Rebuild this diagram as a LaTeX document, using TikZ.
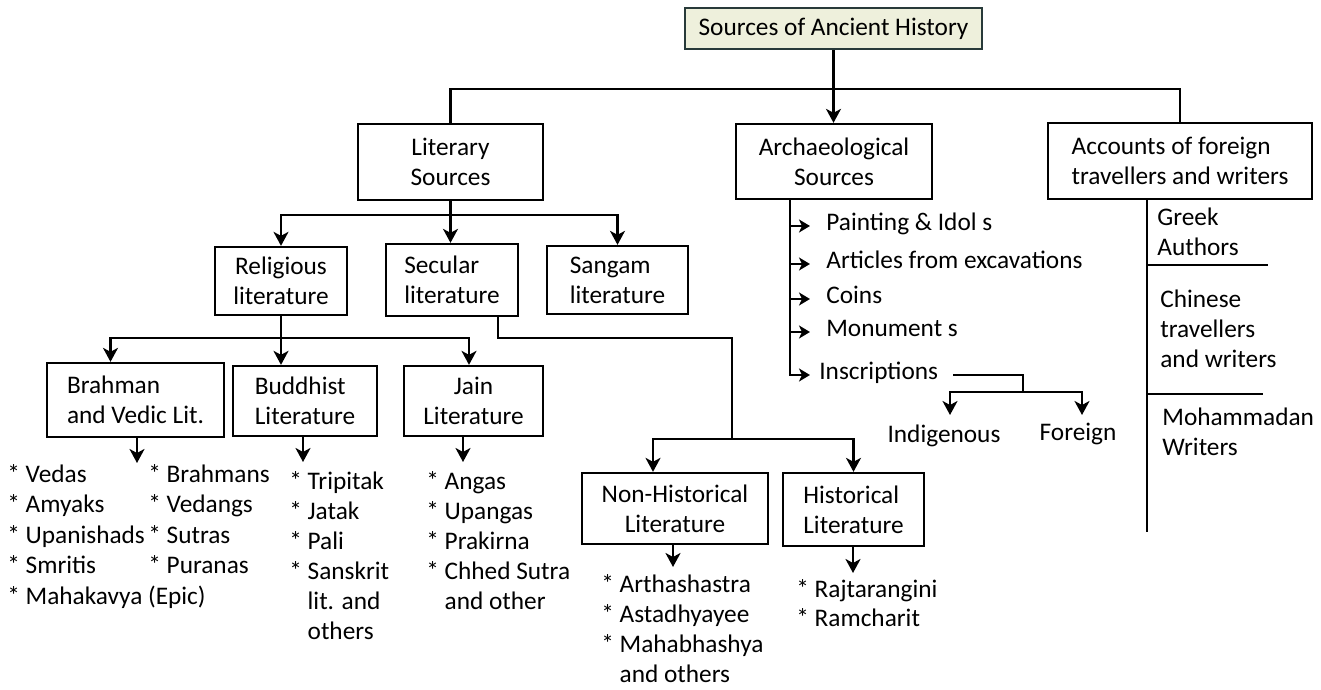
\documentclass[tikz,border=0pt]{standalone}
\usepackage{fontspec}
\setmainfont{Carlito}
\usetikzlibrary{arrows.meta}

\definecolor{titlefill}{RGB}{238,240,220}
\definecolor{titledraw}{RGB}{40,58,58}
\newcommand\chartfont{\fontsize{14.4}{17}\selectfont}

\tikzset{
  box/.style={draw, line width=1.3pt, inner sep=0pt, font=\chartfont},
  item/.style={anchor=mid west, inner sep=0pt, font=\chartfont},
  txt/.style={inner sep=0pt, font=\chartfont},
  con/.style={line width=1.3pt},
  arr/.style={line width=1.3pt, -{Stealth[length=2.8mm, width=3mm, inset=0.8mm]}},
  tip/.style={line width=1.1pt, -{Stealth[length=2.2mm, width=2.6mm, inset=0.6mm]}}
}

\begin{document}
\begin{tikzpicture}[x=0.2mm, y=-0.2mm]

\useasboundingbox (0,0) rectangle (1321,690);

% boxes
\node[box, fill=titlefill, draw=titledraw, line width=1.5pt, minimum width=59.4mm, minimum height=8.2mm] (title) at (833.5,28.5) {Sources of Ancient History};

\node[box, align=center, minimum width=37mm, minimum height=15.2mm] (lit) at (450.5,162) {Literary\\Sources};
\node[box, align=center, minimum width=39.2mm, minimum height=15mm] (arch) at (834,161.5) {Archaeological\\Sources};
\node[box, align=left, minimum width=52.8mm, minimum height=15.2mm] (acc) at (1180,161) {Accounts of foreign\\travellers and writers};

\node[box, align=center, minimum width=26.4mm, minimum height=13.6mm] (rel) at (281,281) {Religious\\literature};
\node[box, align=left, minimum width=26.4mm, minimum height=14.4mm] (sec) at (452,280) {Secular\\literature};
\node[box, align=left, minimum width=28.2mm, minimum height=13.6mm] (san) at (617.5,280) {Sangam\\literature};

\node[box, align=left, minimum width=35.4mm, minimum height=14.8mm] (brah) at (135.5,400) {Brahman\\and Vedic Lit.};
\node[box, align=left, minimum width=28.8mm, minimum height=14mm] (bud) at (305,401) {Buddhist\\Literature};
\node[box, align=center, minimum width=27.8mm, minimum height=14mm] (jain) at (473.5,401) {Jain\\Literature};

\node[box, align=center, minimum width=37.2mm, minimum height=14.2mm] (nonh) at (675,508.5) {Non-Historical\\Literature};
\node[box, align=left, minimum width=28.2mm, minimum height=14.6mm] (hist) at (853.5,509.5) {Historical\\Literature};

% top level
\draw[arr] (title.south) -- (title.south |- arch.north);
\draw[con] (lit.north) -- ++(0,-34) -| (acc.north);

% literary
\coordinate (litjoin) at ([yshift=-2.8mm]lit.south);
\draw[arr] (lit.south) -- (lit.south |- sec.north);
\draw[arr] (litjoin) -| (rel.north);
\draw[arr] (litjoin) -| (san.north);

% religious
\coordinate (reljoin) at ([yshift=-4.4mm]rel.south);
\draw[arr] (rel.south) -- (rel.south |- bud.north);
\draw[arr] (reljoin) -| ([xshift=-5mm]brah.north);
\draw[arr] (reljoin) -| ([xshift=-0.9mm]jain.north);

% secular
\coordinate (secbend) at ([xshift=9.2mm]sec.south);
\coordinate (secjoin) at (732,439);
\draw[con] (secbend) -- ++(0,21) -| (secjoin);
\draw[arr] (secjoin) -| ([xshift=-4.4mm]nonh.north);
\draw[arr] (secjoin) -| (hist.north);

% down to the lists
\coordinate (brahtip) at (137,463);
\coordinate (budtip) at (303,462);
\coordinate (jaintip) at (463,462);
\coordinate (nonhtip) at (673,567);
\coordinate (histtip) at (853,573);
\foreach \b in {brah,bud,jain,nonh,hist}
  \draw[arr] (\b.south -| \b tip) -- (\b tip);

% lists
\foreach \t [count=\i from 0] in {* Vedas, * Amyaks, * Upanishads, * Smritis, * Mahakavya (Epic)}
  \node[item] (vedic\i) at (7, 478+30.5*\i) {\t};
\foreach \t [count=\i from 0] in {* Brahmans, * Vedangs, * Sutras, * Puranas}
  \node[item] (brahm\i) at (148, 478+30.5*\i) {\t};
\foreach \t [count=\i from 0] in {* Tripitak, * Jatak, * Pali, * Sanskrit, \phantom{*} lit. and, \phantom{*} others}
  \node[item] (budd\i) at (289, 485+30*\i) {\t};
\foreach \t [count=\i from 0] in {* Angas, * Upangas, * Prakirna, * Chhed Sutra, \phantom{*} and other}
  \node[item] (jainl\i) at (426, 485+30*\i) {\t};
\foreach \t [count=\i from 0] in {* Arthashastra, * Astadhyayee, * Mahabhashya, \phantom{*} and others}
  \node[item] (nonhl\i) at (601, 588+30*\i) {\t};
\foreach \t [count=\i from 0] in {* Rajtarangini, * Ramcharit}
  \node[item] (histl\i) at (796, 593+29*\i) {\t};

% archaeological
\coordinate (archline) at (790,376);
\foreach \y/\t [count=\i] in {226/Painting \& Idol s, 264/Articles from excavations, 299/Coins, 332/Monument s}{
  \node[item] (archit\i) at (826,\y) {\t};
  \draw[tip] (archline |- archit\i.mid west) -- ([xshift=-3.2mm]archit\i.mid west);
}
\node[item] (inscr) at (819,375) {Inscriptions};
\draw[tip] (arch.south -| archline) |- ([xshift=-1.8mm]inscr.mid west);

\coordinate (insjoin) at (1023,392);
\coordinate (indtip) at (950,415);
\coordinate (fortip) at (1082,415);
\draw[con] ([xshift=3mm]inscr.mid east) -| (insjoin);
\draw[arr] (insjoin) -| (indtip);
\draw[arr] (insjoin) -| (fortip);
\node[txt] (indig) at (944,436) {Indigenous};
\node[txt] (foreign) at (1078,434) {Foreign};

% foreign accounts
\coordinate (accfoot) at (1147,532);
\coordinate (greekend) at (1268,265);
\coordinate (chinend) at (1263,394);
\draw[con] (acc.south -| accfoot) -- (accfoot);
\draw[con] (greekend -| accfoot) -- (greekend);
\draw[con] (chinend -| accfoot) -- (chinend);
\node[txt, align=left, anchor=west] (greek) at (1157,231.5) {Greek\\Authors};
\node[txt, align=left, anchor=west] (chinese) at (1160,329) {Chinese\\travellers\\and writers};
\node[txt, align=left, anchor=west] (moham) at (1162,431.5) {Mohammadan\\Writers};

\end{tikzpicture}
\end{document}
